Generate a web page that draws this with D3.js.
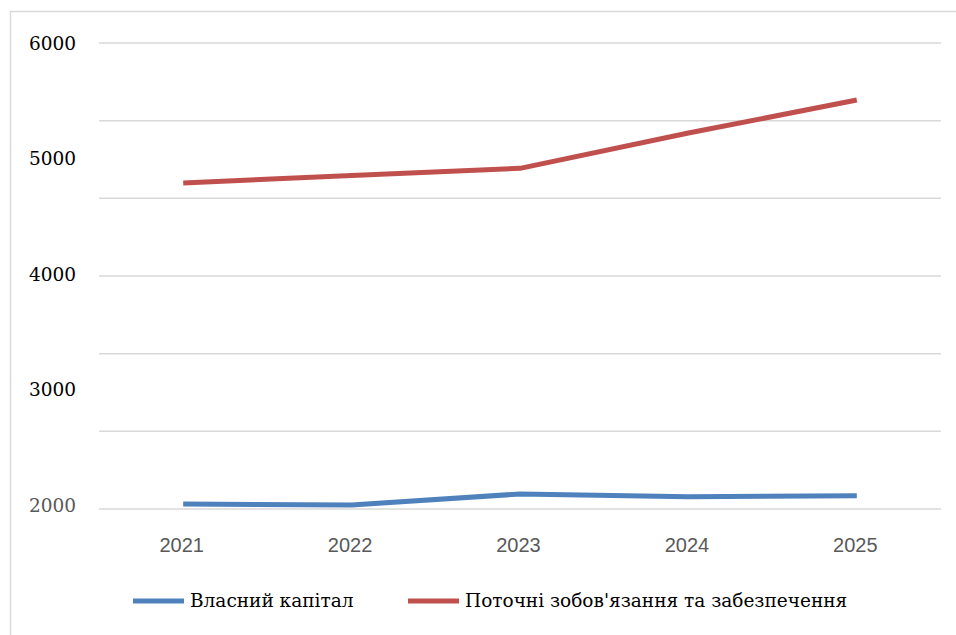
<!DOCTYPE html>
<html>
<head>
<meta charset="utf-8">
<script src="https://cdn.jsdelivr.net/npm/d3@7"></script>
<style>
  body { margin: 0; background: #fff; }
</style>
</head>
<body>
<script>
const years = ['2021', '2022', '2023', '2024', '2025']
const equity = [2043, 2034, 2129, 2106, 2114]
const liabilities = [4798, 4863, 4924, 5227, 5511]
const seriesNames = ['Власний капітал', "Поточні зобов'язання та забезпечення"]
const yLabels = [6000, 5000, 4000, 3000, 2000]

const width = 956
const height = 635
const plot = { left: 99, right: 941, top: 43, bottom: 509 }
const colors = ['#4f81bd', '#c0504d']
const serif = '"DejaVu Serif", serif'

const svg = d3.select('body')
  .append('svg')
  .attr('width', width)
  .attr('height', height)

// outer chart border (runs off the right and bottom edges)
svg.append('rect')
  .attr('x', 10.5)
  .attr('y', 11.5)
  .attr('width', 1000)
  .attr('height', 700)
  .attr('fill', 'none')
  .attr('stroke', '#d9d9d9')
  .attr('stroke-width', 1.5)

const x = d3.scalePoint()
  .domain(years)
  .range([plot.left, plot.right])
  .padding(0.5)

const y = d3.scaleLinear()
  .domain([2000, 6000])
  .range([plot.bottom, plot.top])

// labels sit slightly off the gridlines, as in the original
const yLab = d3.scaleLinear()
  .domain([2000, 6000])
  .range([505.5, 43.5])

const gridVals = d3.range(7).map(i => 2000 + i * 4000 / 6)

svg.append('g')
  .selectAll('line')
  .data(gridVals)
  .enter()
  .append('line')
  .attr('x1', plot.left)
  .attr('x2', plot.right)
  .attr('y1', d => y(d))
  .attr('y2', d => y(d))
  .attr('stroke', '#d9d9d9')
  .attr('stroke-width', 1.5)

svg.append('g')
  .selectAll('text')
  .data(yLabels)
  .enter()
  .append('text')
  .attr('x', 76)
  .attr('y', d => yLab(d))
  .attr('dy', '0.35em')
  .attr('text-anchor', 'end')
  .style('font-family', serif)
  .style('font-size', '18.5px')
  .attr('fill', d => d === 2000 ? '#595959' : '#000')
  .text(d => d)

svg.append('g')
  .selectAll('text')
  .data(years)
  .enter()
  .append('text')
  .attr('x', d => x(d) - 1.5)
  .attr('y', 552)
  .attr('text-anchor', 'middle')
  .style('font-family', '"Liberation Sans", sans-serif')
  .style('font-size', '20px')
  .attr('fill', '#595959')
  .text(d => d)

const line = d3.line()
  .x((d, i) => x(years[i]))
  .y(d => y(d))

svg.append('g')
  .selectAll('path')
  .data([equity, liabilities])
  .enter()
  .append('path')
  .attr('d', d => line(d))
  .attr('fill', 'none')
  .attr('stroke', (d, i) => colors[i])
  .attr('stroke-width', 5)
  .attr('stroke-linejoin', 'round')

// legend
const legendX = [133, 408]
const legend = svg.append('g')
  .selectAll('g')
  .data(seriesNames)
  .enter()
  .append('g')
  .attr('transform', (d, i) => `translate(${legendX[i]}, 601)`)

legend.append('line')
  .attr('x1', 0)
  .attr('x2', 51)
  .attr('stroke', (d, i) => colors[i])
  .attr('stroke-width', 5)

legend.append('text')
  .attr('x', 57)
  .attr('dy', '0.35em')
  .style('font-family', serif)
  .style('font-size', '18.5px')
  .attr('fill', '#000')
  .text(d => d)
</script>
</body>
</html>
